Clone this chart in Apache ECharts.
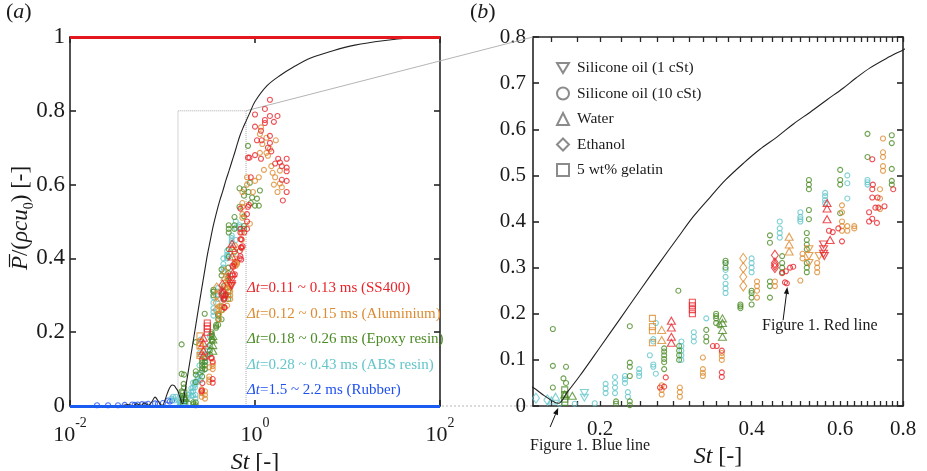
<!DOCTYPE html>
<html><head><meta charset="utf-8">
<script src="https://cdn.jsdelivr.net/npm/echarts@6/dist/echarts.min.js"></script>
<style>html,body{margin:0;padding:0;background:#fff}#c{width:927px;height:471px}</style>
</head><body><div id="c"></div><script>
// ---------------- data (x = St, y = P/(rho c u0)) ----------------
// SS400 (red)
const ss400Sil10 = [[0.263,0.04],[0.268,0.042],[0.27,0.062],[0.335,0.13],[0.341,0.13],[0.349,0.12],[0.349,0.073],[0.349,0.063],
 [0.466,0.268],[0.47,0.266],[0.46,0.288],[0.468,0.292],[0.477,0.30],[0.484,0.302],
 [0.57,0.38],[0.58,0.377],[0.595,0.385],[0.605,0.357],
 [0.685,0.40],[0.695,0.406],[0.71,0.397],[0.685,0.42],[0.705,0.43],[0.715,0.43],[0.735,0.433],[0.695,0.452],[0.712,0.452],[0.695,0.47],[0.697,0.48],[0.765,0.47],[0.695,0.535],
 [0.84,0.673],[0.87,0.673],[1.0,0.79],[1.0,0.757],[1.16,0.746],[1.16,0.67],[1.18,0.72],[1.28,0.805],[1.28,0.775],[1.28,0.767],[1.38,0.70],[1.45,0.83],[1.45,0.786],[1.45,0.732],[1.45,0.713],[1.5,0.69],[1.6,0.77],[1.65,0.657],[1.75,0.786],[1.78,0.67],[1.86,0.66],[1.95,0.65],[1.95,0.613],[2.0,0.557],[2.2,0.67],[2.2,0.646],[2.2,0.636],[2.2,0.61],[2.2,0.58],[0.84,0.54],[0.86,0.545],[0.82,0.52],[0.82,0.5],[0.82,0.48],[1.0,0.68],[1.05,0.72],[0.9,0.62]];
const ss400Water = [[0.277,0.185],[0.277,0.17],[0.277,0.15],[0.277,0.137],[0.565,0.44],[0.565,0.428],[0.565,0.405],[0.573,0.36]];
const ss400Sil1 = [[0.556,0.35],[0.556,0.34],[0.556,0.33],[0.558,0.325]];
const ss400Ethanol = [[0.445,0.327],[0.445,0.31],[0.445,0.305],[0.445,0.30]];
const ss400Gelatin = [[0.305,0.225],[0.305,0.217],[0.305,0.209],[0.305,0.2]];
// Aluminium (orange)
const aluSil10 = [[0.265,0.045],[0.265,0.035],[0.265,0.025],[0.288,0.04],[0.288,0.03],[0.288,0.02],[0.32,0.105],[0.32,0.08],[0.32,0.072],[0.32,0.065],[0.349,0.115],[0.349,0.108],[0.349,0.10],
 [0.41,0.27],[0.41,0.26],[0.41,0.25],[0.41,0.235],[0.445,0.27],[0.445,0.26],[0.5,0.272],[0.505,0.33],[0.505,0.32],[0.54,0.31],[0.54,0.30],[0.54,0.29],
 [0.605,0.40],[0.605,0.39],[0.605,0.38],[0.62,0.39],[0.62,0.38],[0.64,0.39],[0.64,0.385],[0.605,0.435],[0.605,0.42],
 [0.72,0.47],[0.72,0.45],[0.72,0.427],[0.73,0.58],[0.73,0.55],[0.73,0.54],[0.73,0.52],[0.73,0.51],
 [0.82,0.6],[0.82,0.62],[0.88,0.494],[1.0,0.61],[1.13,0.737],[1.13,0.686],[1.16,0.755],[1.2,0.71],[1.33,0.727],[1.33,0.686],[1.38,0.678],[1.45,0.697],[1.5,0.65],[1.55,0.632],[1.65,0.62],[1.68,0.72],[1.86,0.638],[1.86,0.603],[1.95,0.593],[1.25,0.64],[1.1,0.62],[0.95,0.58],[1.6,0.6],[1.75,0.58]];
const aluWater = [[0.265,0.165],[0.265,0.143],[0.475,0.367],[0.475,0.35],[0.475,0.335]];
const aluSil1 = [[0.52,0.34],[0.52,0.325],[0.52,0.31],[0.545,0.325]];
const aluEthanol = [[0.385,0.32],[0.385,0.30],[0.385,0.28],[0.385,0.26]];
const aluGelatin = [[0.254,0.19],[0.254,0.172],[0.254,0.163],[0.254,0.137]];
// Epoxy resin (green)
const epoxySil10 = [[0.161,0.167],[0.161,0.087],[0.161,0.04],[0.171,0.085],[0.169,0.06],[0.171,0.05],[0.215,0.005],[0.215,0.01],[0.229,0.173],[0.229,0.094],[0.229,0.085],[0.229,0.065],[0.229,0.002],[0.229,0.01],
 [0.268,0.125],[0.268,0.118],[0.268,0.11],[0.268,0.102],[0.268,0.095],[0.268,0.08],
 [0.286,0.25],[0.287,0.13],[0.287,0.12],[0.287,0.11],[0.287,0.10],
 [0.325,0.165],[0.325,0.15],[0.325,0.14],
 [0.34,0.2],[0.34,0.195],[0.34,0.19],[0.34,0.18],[0.345,0.175],
 [0.38,0.212],[0.38,0.216],[0.38,0.22],
 [0.355,0.3],[0.355,0.31],[0.355,0.315],
 [0.40,0.22],[0.40,0.235],[0.40,0.245],[0.40,0.25],
 [0.435,0.235],[0.435,0.26],[0.435,0.27],[0.435,0.37],[0.435,0.354],
 [0.46,0.29],[0.46,0.30],[0.46,0.31],[0.46,0.325],
 [0.515,0.29],[0.515,0.30],[0.515,0.31],[0.515,0.34],[0.515,0.35],[0.515,0.36],[0.515,0.375],
 [0.52,0.47],[0.52,0.48],[0.52,0.49],[0.52,0.425],[0.52,0.405],
 [0.60,0.512],[0.60,0.49],[0.60,0.48],[0.60,0.418],
 [0.68,0.59],[0.68,0.54],[0.76,0.587],[0.76,0.57],[0.76,0.514],[0.76,0.488],[0.76,0.48],
 [0.84,0.705],[0.88,0.605],[1.13,0.584],[0.93,0.565],[1.05,0.562],[1.0,0.543],[1.1,0.543],[0.85,0.58],[0.9,0.55]];
const epoxyWater = [[0.17,0.025],[0.176,0.022],[0.35,0.19],[0.35,0.18],[0.35,0.165],[0.35,0.15]];
const epoxyGelatin = [[0.17,0.035],[0.17,0.025],[0.17,0.015],[0.17,0.008]];
// ABS resin (cyan)
const absSil10 = [[0.166,0.005],[0.178,0.005],[0.195,0.006],[0.205,0.028],[0.205,0.038],[0.205,0.048],[0.214,0.028],[0.214,0.04],[0.214,0.05],[0.214,0.063],[0.224,0.05],[0.224,0.058],[0.224,0.065],[0.227,0.02],[0.227,0.03],[0.239,0.065],[0.239,0.072],[0.239,0.08],[0.251,0.11],[0.255,0.085],[0.255,0.09],[0.258,0.07],[0.258,0.18],[0.255,0.14],[0.255,0.145],
 [0.29,0.1],[0.29,0.11],[0.29,0.12],[0.29,0.13],[0.29,0.14],
 [0.307,0.14],[0.307,0.15],[0.307,0.16],[0.325,0.19],
 [0.355,0.245],[0.355,0.255],[0.355,0.265],[0.355,0.28],[0.355,0.295],[0.355,0.31],
 [0.40,0.29],[0.40,0.30],[0.40,0.31],[0.40,0.32],
 [0.455,0.365],[0.455,0.375],[0.455,0.385],[0.455,0.40],
 [0.50,0.40],[0.50,0.405],[0.50,0.41],[0.50,0.42],
 [0.56,0.44],[0.56,0.447],[0.56,0.455],[0.56,0.462],
 [0.62,0.50],[0.62,0.483],[0.62,0.45],
 [0.68,0.48],[0.68,0.485],[0.68,0.49],
 [0.125,0.02],[0.13,0.025],[0.135,0.015],[0.14,0.025]];
const absWater = [[0.163,0.02],[0.16,0.012]];
const absSil1 = [[0.186,0.018],[0.186,0.028]];
const absEthanol = [[0.149,0.017],[0.157,0.013]];
// Rubber (blue)
const rubberSil10 = [[0.0196,0.002],[0.0258,0.002],[0.033,0.002],[0.039,0.003],[0.047,0.004],[0.05,0.003],[0.054,0.004],[0.06,0.005],[0.065,0.004],[0.07,0.006],[0.083,0.007],[0.089,0.006],[0.101,0.008],[0.115,0.015],[0.12,0.012],[0.127,0.015]];
// model curve
const curveSt = [0.035,0.042,0.048,0.053,0.058,0.064,0.07,0.077,0.083,0.089,0.095,0.1,0.106,0.113,0.12,0.127,0.134,0.141,0.147,0.155,0.165,0.172,0.182,0.2,0.219,0.240,0.263,0.284,0.307,0.331,0.355,0.386,0.415,0.449,0.485,0.523,0.565,0.608,0.645,0.688,0.74,0.8,0.88,1.0,1.35,1.9,2.58,4.0,6.97,12.0,24.2,50,84,100];
const curveP = [0,0.004,0.001,0.006,0.001,0.008,0.002,0.012,0.024,0.015,0.004,0.002,0.015,0.035,0.05,0.057,0.055,0.047,0.04,0.022,0.006,0.03,0.065,0.128,0.189,0.251,0.312,0.362,0.412,0.453,0.49,0.527,0.556,0.583,0.612,0.637,0.664,0.689,0.711,0.733,0.753,0.772,0.795,0.825,0.868,0.897,0.918,0.943,0.963,0.978,0.99,0.998,1.0,1.0];
// axes / ticks
const aXTicks = [0.01, 1, 100];
const bXRange = [0.147, 0.8];
const bYRange = [0, 0.8];
const bXLabels = [0.2, 0.4, 0.6, 0.8];
const bXTicks = [0.16,0.18,0.2,0.22,0.24,0.26,0.28,0.3,0.32,0.34,0.36,0.38,0.4,0.42,0.44,0.46,0.48,0.5,0.52,0.54,0.56,0.58,0.6,0.62,0.64,0.66,0.68,0.7,0.72,0.74,0.76,0.78,0.8];
const legendNames = ['Silicone oil (1 cSt)', 'Silicone oil (10 cSt)', 'Water', 'Ethanol', '5 wt% gelatin'];
const materialTexts = [
  ['Δt', '=0.11 ~ 0.13 ms (SS400)', 'ss400'],
  ['Δt', '=0.12 ~ 0.15 ms (Aluminium)', 'alu'],
  ['Δt', '=0.18 ~ 0.26 ms (Epoxy resin)', 'epoxy'],
  ['Δt', '=0.28 ~ 0.43 ms (ABS resin)', 'abs'],
  ['Δt', '=1.5 ~ 2.2 ms (Rubber)', 'rubber']
];
const redLineArrow = [[0.462, 0.186], [0.471, 0.258]];
const blueLineArrow = [[0.159, -0.0455], [0.165, -0.004]];

// ---------------- styles ----------------
const SERIF = '"Liberation Serif", "Times New Roman", "DejaVu Serif", serif';
const COLORS = {ss400:'#e8242a', alu:'#dd8b31', epoxy:'#4b8b25', abs:'#63c5ca', rubber:'#1f50f0'};
const TRI_DOWN = 'path://M0,0L12,0L6,10Z';
const SHAPES = {
  sil1: {symbol: TRI_DOWN, size:[8,7]},
  sil10: {symbol:'circle', size:5},
  water: {symbol:'triangle', size:[8,7]},
  ethanol: {symbol:'diamond', size:[7,10]},
  gelatin: {symbol:'rect', size:6}
};
const groups = [
  [rubberSil10,'rubber','sil10'],
  [absSil10,'abs','sil10'],[absWater,'abs','water'],[absSil1,'abs','sil1'],[absEthanol,'abs','ethanol'],
  [epoxySil10,'epoxy','sil10'],[epoxyWater,'epoxy','water'],[epoxyGelatin,'epoxy','gelatin'],
  [aluSil10,'alu','sil10'],[aluWater,'alu','water'],[aluSil1,'alu','sil1'],[aluEthanol,'alu','ethanol'],[aluGelatin,'alu','gelatin'],
  [ss400Sil10,'ss400','sil10'],[ss400Water,'ss400','water'],[ss400Sil1,'ss400','sil1'],[ss400Ethanol,'ss400','ethanol'],[ss400Gelatin,'ss400','gelatin']
];
const AX = {color:'#262626', width:1.6};
const TXT = '#1a1a1a';

function scatter(data, mat, shp, xi, yi) {
  const s = SHAPES[shp];
  return {type:'scatter', xAxisIndex:xi, yAxisIndex:yi, data:data, symbol:s.symbol, symbolSize:s.size,
    silent:true, z:3, animation:false,
    itemStyle:{color:'rgba(0,0,0,0)', borderColor:COLORS[mat], borderWidth:1.1}};
}
const curveData = curveSt.map((x,i)=>[x, curveP[i]]);
const series = [];
// panel (a)
series.push({type:'line', xAxisIndex:0, yAxisIndex:0, data:curveData, showSymbol:false, smooth:0.35,
  lineStyle:{color:'#222', width:1.1}, z:4, silent:true, animation:false,
  markArea:{silent:true, itemStyle:{color:'rgba(0,0,0,0)', borderColor:'#a9a9a9', borderWidth:1, borderType:'dotted'},
    data:[[{coord:[bXRange[0], bYRange[0]]},{coord:[bXRange[1], bYRange[1]]}]]},
  markLine:{silent:true, symbol:['none','none'], label:{show:false}, animation:false,
    data:[{yAxis:1, lineStyle:{color:'#e3171d', width:3, type:'solid'}},{yAxis:0, lineStyle:{color:'#1a5cf2', width:3, type:'solid'}}]}
});
groups.forEach(g => series.push(scatter(g[0], g[1], g[2], 0, 0)));
// panel (b)
series.push({type:'line', xAxisIndex:2, yAxisIndex:2, data:curveData, showSymbol:false, smooth:0.35,
  lineStyle:{color:'#222', width:1.1}, z:4, silent:true, animation:false});
groups.forEach(g => series.push(scatter(g[0], g[1], g[2], 2, 2)));
// legend dummies
const legendShapes = ['sil1','sil10','water','ethanol','gelatin'];
legendNames.forEach((n,i) => {
  const s = SHAPES[legendShapes[i]];
  series.push({type:'scatter', name:n, xAxisIndex:2, yAxisIndex:2, data:[], symbol:s.symbol,
    itemStyle:{color:'rgba(0,0,0,0)', borderColor:'#6e6e6e', borderWidth:1}});
});

const supRich = {b:{fontFamily:SERIF, fontSize:22, lineHeight:30, verticalAlign:'bottom', color:TXT},
                 sup:{fontFamily:SERIF, fontSize:14, verticalAlign:'top', color:TXT}};

const option = {
  animation:false,
  backgroundColor:'#fff',
  grid:[{left:70, top:37, width:370, height:369, containLabel:false, outerBoundsMode:'none'},
        {left:533, top:37, width:370, height:369, containLabel:false, outerBoundsMode:'none'}],
  legend:{orient:'vertical', left:551, top:55, padding:5, itemWidth:12, itemHeight:12, itemGap:9.5, selectedMode:false,
    data:legendNames, textStyle:{fontFamily:SERIF, fontSize:15.5, lineHeight:16, color:TXT, padding:[0,0,0,3]}},
  xAxis:[
    {gridIndex:0, type:'log', logBase:10, min:0.01, max:100, position:'bottom',
     axisLine:{show:true, onZero:false, lineStyle:AX},
     axisTick:{show:true, inside:true, length:6, customValues:aXTicks, lineStyle:AX},
     minorTick:{show:false}, splitLine:{show:false},
     axisLabel:{customValues:aXTicks, margin:10, formatter:v=>'{b|10}{sup|'+Math.round(Math.log10(v))+'}', rich:supRich},
     name:'{it|St} [-]', nameLocation:'middle', nameGap:40,
     nameTextStyle:{fontFamily:SERIF, fontSize:24, color:TXT, rich:{it:{fontFamily:SERIF, fontStyle:'italic', fontSize:24, color:TXT}}}},
    {gridIndex:0, type:'log', logBase:10, min:0.01, max:100, position:'top',
     axisLine:{show:true, onZero:false, lineStyle:AX},
     axisTick:{show:true, inside:true, length:6, customValues:aXTicks, lineStyle:AX},
     axisLabel:{show:false}, splitLine:{show:false}},
    {gridIndex:1, type:'log', logBase:10, min:bXRange[0], max:bXRange[1], position:'bottom',
     axisLine:{show:true, onZero:false, lineStyle:AX},
     axisTick:{show:true, inside:true, length:5, customValues:bXTicks, lineStyle:{color:'#262626', width:1.3}},
     minorTick:{show:false}, splitLine:{show:false},
     axisLabel:{customValues:bXLabels, margin:13, formatter:v=>(+v).toFixed(1), fontFamily:SERIF, fontSize:21, color:TXT},
     name:'{it|St} [-]', nameLocation:'middle', nameGap:32,
     nameTextStyle:{fontFamily:SERIF, fontSize:24, color:TXT, rich:{it:{fontFamily:SERIF, fontStyle:'italic', fontSize:24, color:TXT}}}},
    {gridIndex:1, type:'log', logBase:10, min:bXRange[0], max:bXRange[1], position:'top',
     axisLine:{show:true, onZero:false, lineStyle:AX},
     axisTick:{show:true, inside:true, length:5, customValues:bXTicks, lineStyle:{color:'#262626', width:1.3}},
     axisLabel:{show:false}, splitLine:{show:false}}
  ],
  yAxis:[
    {gridIndex:0, type:'value', min:0, max:1, interval:0.2, position:'left',
     axisLine:{show:true, lineStyle:AX}, axisTick:{show:true, inside:true, length:6, lineStyle:AX},
     splitLine:{show:false}, axisLabel:{margin:5, fontFamily:SERIF, fontSize:23, color:TXT}},
    {gridIndex:0, type:'value', min:0, max:1, interval:0.2, position:'right',
     axisLine:{show:true, lineStyle:AX}, axisTick:{show:true, inside:true, length:6, lineStyle:AX},
     splitLine:{show:false}, axisLabel:{show:false}},
    {gridIndex:1, type:'value', min:bYRange[0], max:bYRange[1], interval:0.1, position:'left',
     axisLine:{show:true, lineStyle:AX}, axisTick:{show:true, inside:true, length:6, lineStyle:AX},
     splitLine:{show:false}, axisLabel:{margin:7, fontFamily:SERIF, fontSize:21, color:TXT}},
    {gridIndex:1, type:'value', min:bYRange[0], max:bYRange[1], interval:0.1, position:'right',
     axisLine:{show:true, lineStyle:AX}, axisTick:{show:true, inside:true, length:6, lineStyle:AX},
     splitLine:{show:false}, axisLabel:{show:false}}
  ],
  series:series
};

const chart = echarts.init(document.getElementById('c'), null, {renderer:'canvas'});
chart.setOption(option);

// ---------------- annotations ----------------
const PA = pt => chart.convertToPixel({xAxisIndex:0, yAxisIndex:0}, pt);
const PB = pt => chart.convertToPixel({xAxisIndex:2, yAxisIndex:2}, pt);
function arrow(p0, p1, color) {
  const dx=p1[0]-p0[0], dy=p1[1]-p0[1], L=Math.hypot(dx,dy), ux=dx/L, uy=dy/L;
  const hl=7, hw=2.6, bx=p1[0]-ux*hl, by=p1[1]-uy*hl;
  return [{type:'line', silent:true, shape:{x1:p0[0],y1:p0[1],x2:bx,y2:by}, style:{stroke:color, lineWidth:1}},
          {type:'polygon', silent:true, shape:{points:[[p1[0],p1[1]],[bx-uy*hw,by+ux*hw],[bx+uy*hw,by-ux*hw]]}, style:{fill:color}}];
}
// y-axis title of panel (a), with an overline over P
const mctx = document.createElement('canvas').getContext('2d');
function tw(font, s) { mctx.font = font; return mctx.measureText(s).width; }
const F_IT = 'italic 23px "Liberation Serif"', F_RG = '23px "Liberation Serif"', F_SUB = '14px "Liberation Serif"';
const pW = tw(F_IT, 'P');
const titleW = pW + tw(F_RG, '/(') + tw(F_IT, 'ρcu') + tw(F_SUB, '0') + tw(F_RG, ') [-]');

const graphics = [];
graphics.push({type:'group', x:21, y:218, rotation:Math.PI/2, silent:true, children:[
  {type:'text', x:0, y:0, style:{text:'{it|P}/({it|ρcu}{sub|0}) [-]', font:'23px '+SERIF, fill:TXT, align:'center', verticalAlign:'middle', lineHeight:30,
    rich:{it:{fontFamily:SERIF, fontStyle:'italic', fontSize:23, lineHeight:30, fill:TXT},
          sub:{fontFamily:SERIF, fontSize:14, verticalAlign:'bottom', fill:TXT}}}},
  {type:'line', shape:{x1:-titleW/2+3, y1:-11.5, x2:-titleW/2+pW+2, y2:-11.5}, style:{stroke:TXT, lineWidth:1.2}}
]});
const aTR = PA([bXRange[1], bYRange[1]]), bTL = PB([bXRange[0], bYRange[1]]);
const aBR = PA([bXRange[1], bYRange[0]]), bBL = PB([bXRange[0], bYRange[0]]);
graphics.push({type:'line', silent:true, z:1, shape:{x1:aTR[0], y1:aTR[1], x2:bTL[0], y2:bTL[1]}, style:{stroke:'#b5b5b5', lineWidth:1}});
graphics.push({type:'line', silent:true, z:-1, shape:{x1:aBR[0], y1:aBR[1], x2:bBL[0], y2:bBL[1]}, style:{stroke:'#b5b5b5', lineWidth:1, lineDash:[2,2]}});
arrow(PB(redLineArrow[0]), PB(redLineArrow[1]), '#111').forEach(g=>graphics.push(g));
arrow(PB(blueLineArrow[0]), PB(blueLineArrow[1]), '#111').forEach(g=>graphics.push(g));
graphics.push({type:'text', silent:true, left:762, top:318, style:{text:'Figure 1. Red line', font:'16px '+SERIF, fill:TXT}});
graphics.push({type:'text', silent:true, left:530, top:438, style:{text:'Figure 1. Blue line', font:'16px '+SERIF, fill:TXT}});
graphics.push({type:'text', silent:true, left:6, top:1, style:{text:'({it|a})', font:'22px '+SERIF, fill:TXT,
  rich:{it:{fontFamily:SERIF, fontStyle:'italic', fontSize:22, fill:TXT}}}});
graphics.push({type:'text', silent:true, left:470, top:1, style:{text:'({it|b})', font:'22px '+SERIF, fill:TXT,
  rich:{it:{fontFamily:SERIF, fontStyle:'italic', fontSize:22, fill:TXT}}}});
materialTexts.forEach((m,i) => {
  const c = COLORS[m[2]];
  graphics.push({type:'text', silent:true, left:247, top:281 + i*25.5, z:10, style:{text:'{it|'+m[0]+'}'+m[1],
    font:'15px '+SERIF, fill:c, rich:{it:{fontFamily:SERIF, fontStyle:'italic', fontSize:15, fill:c}}}});
});
chart.setOption({graphic:graphics});
</script></body></html>
